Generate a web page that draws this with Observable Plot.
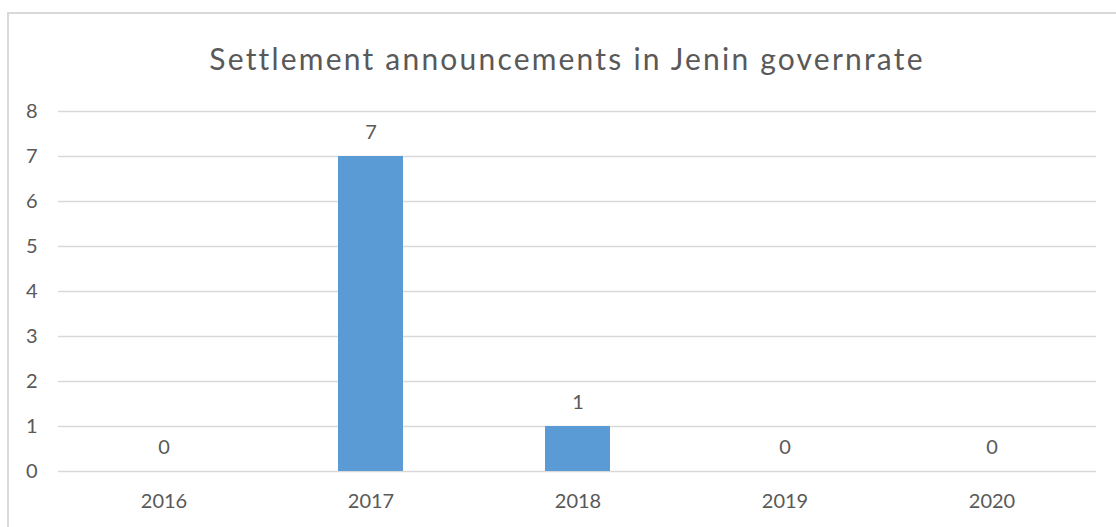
<!DOCTYPE html>
<html>
<head>
<meta charset="utf-8">
<script src="https://cdn.jsdelivr.net/npm/d3@7"></script>
<script src="https://cdn.jsdelivr.net/npm/@observablehq/plot@0.6"></script>
<style>
  html, body { margin: 0; padding: 0; background: #fff; }
  #wrap { position: relative; width: 1116px; height: 527px; overflow: hidden; font-family: Lato, "Open Sans", sans-serif; }
  #frame { position: absolute; left: 7px; top: 12px; width: 1300px; height: 700px; border: 2px solid #d9d9d9; box-sizing: border-box; }
  #title { position: absolute; left: 0; top: 0; width: 1116px; height: 90px; text-align: center; padding-left: 18px; box-sizing: border-box; line-height: 116px; font-size: 30px; letter-spacing: 2.2px; color: #595959; }
  #chart { position: absolute; left: 0; top: 90px; }
</style>
</head>
<body>
<div id="wrap">
  <div id="frame"></div>
  <div id="title">Settlement announcements in Jenin governrate</div>
  <div id="chart"></div>
</div>
<script>
const years = ["2016", "2017", "2018", "2019", "2020"];
const counts = [0, 7, 1, 0, 0];
const yTicks = [0, 1, 2, 3, 4, 5, 6, 7, 8];
const titleText = "Settlement announcements in Jenin governrate";

const data = years.map((y, i) => ({year: y, count: counts[i]}));
const textColor = "#595959";

const chart = Plot.plot({
  width: 1116,
  height: 437,
  marginLeft: 58,
  marginRight: 20,
  marginTop: 21,
  marginBottom: 56,
  style: {fontFamily: "Lato, 'Open Sans', sans-serif", fontSize: "20px", color: textColor, background: "transparent"},
  x: {domain: years, paddingInner: 0.686, paddingOuter: 0.343, label: null},
  y: {domain: [0, 8], ticks: yTicks, label: null},
  marks: [
    Plot.ruleY(yTicks, {stroke: "#d9d9d9", strokeWidth: 1.5}),
    Plot.barY(data, {x: "year", y: "count", fill: "#5b9bd5"}),
    Plot.text(data, {x: "year", y: "count", text: d => String(d.count), dy: -24, fill: textColor, fontSize: 20}),
    Plot.axisY(yTicks, {tickSize: 0, tickPadding: 21, fill: textColor, fontSize: 20, label: null}),
    Plot.axisX(years, {tickSize: 0, tickPadding: 22, fill: textColor, fontSize: 20, label: null})
  ]
});
document.getElementById("chart").appendChild(chart);
</script>
</body>
</html>
